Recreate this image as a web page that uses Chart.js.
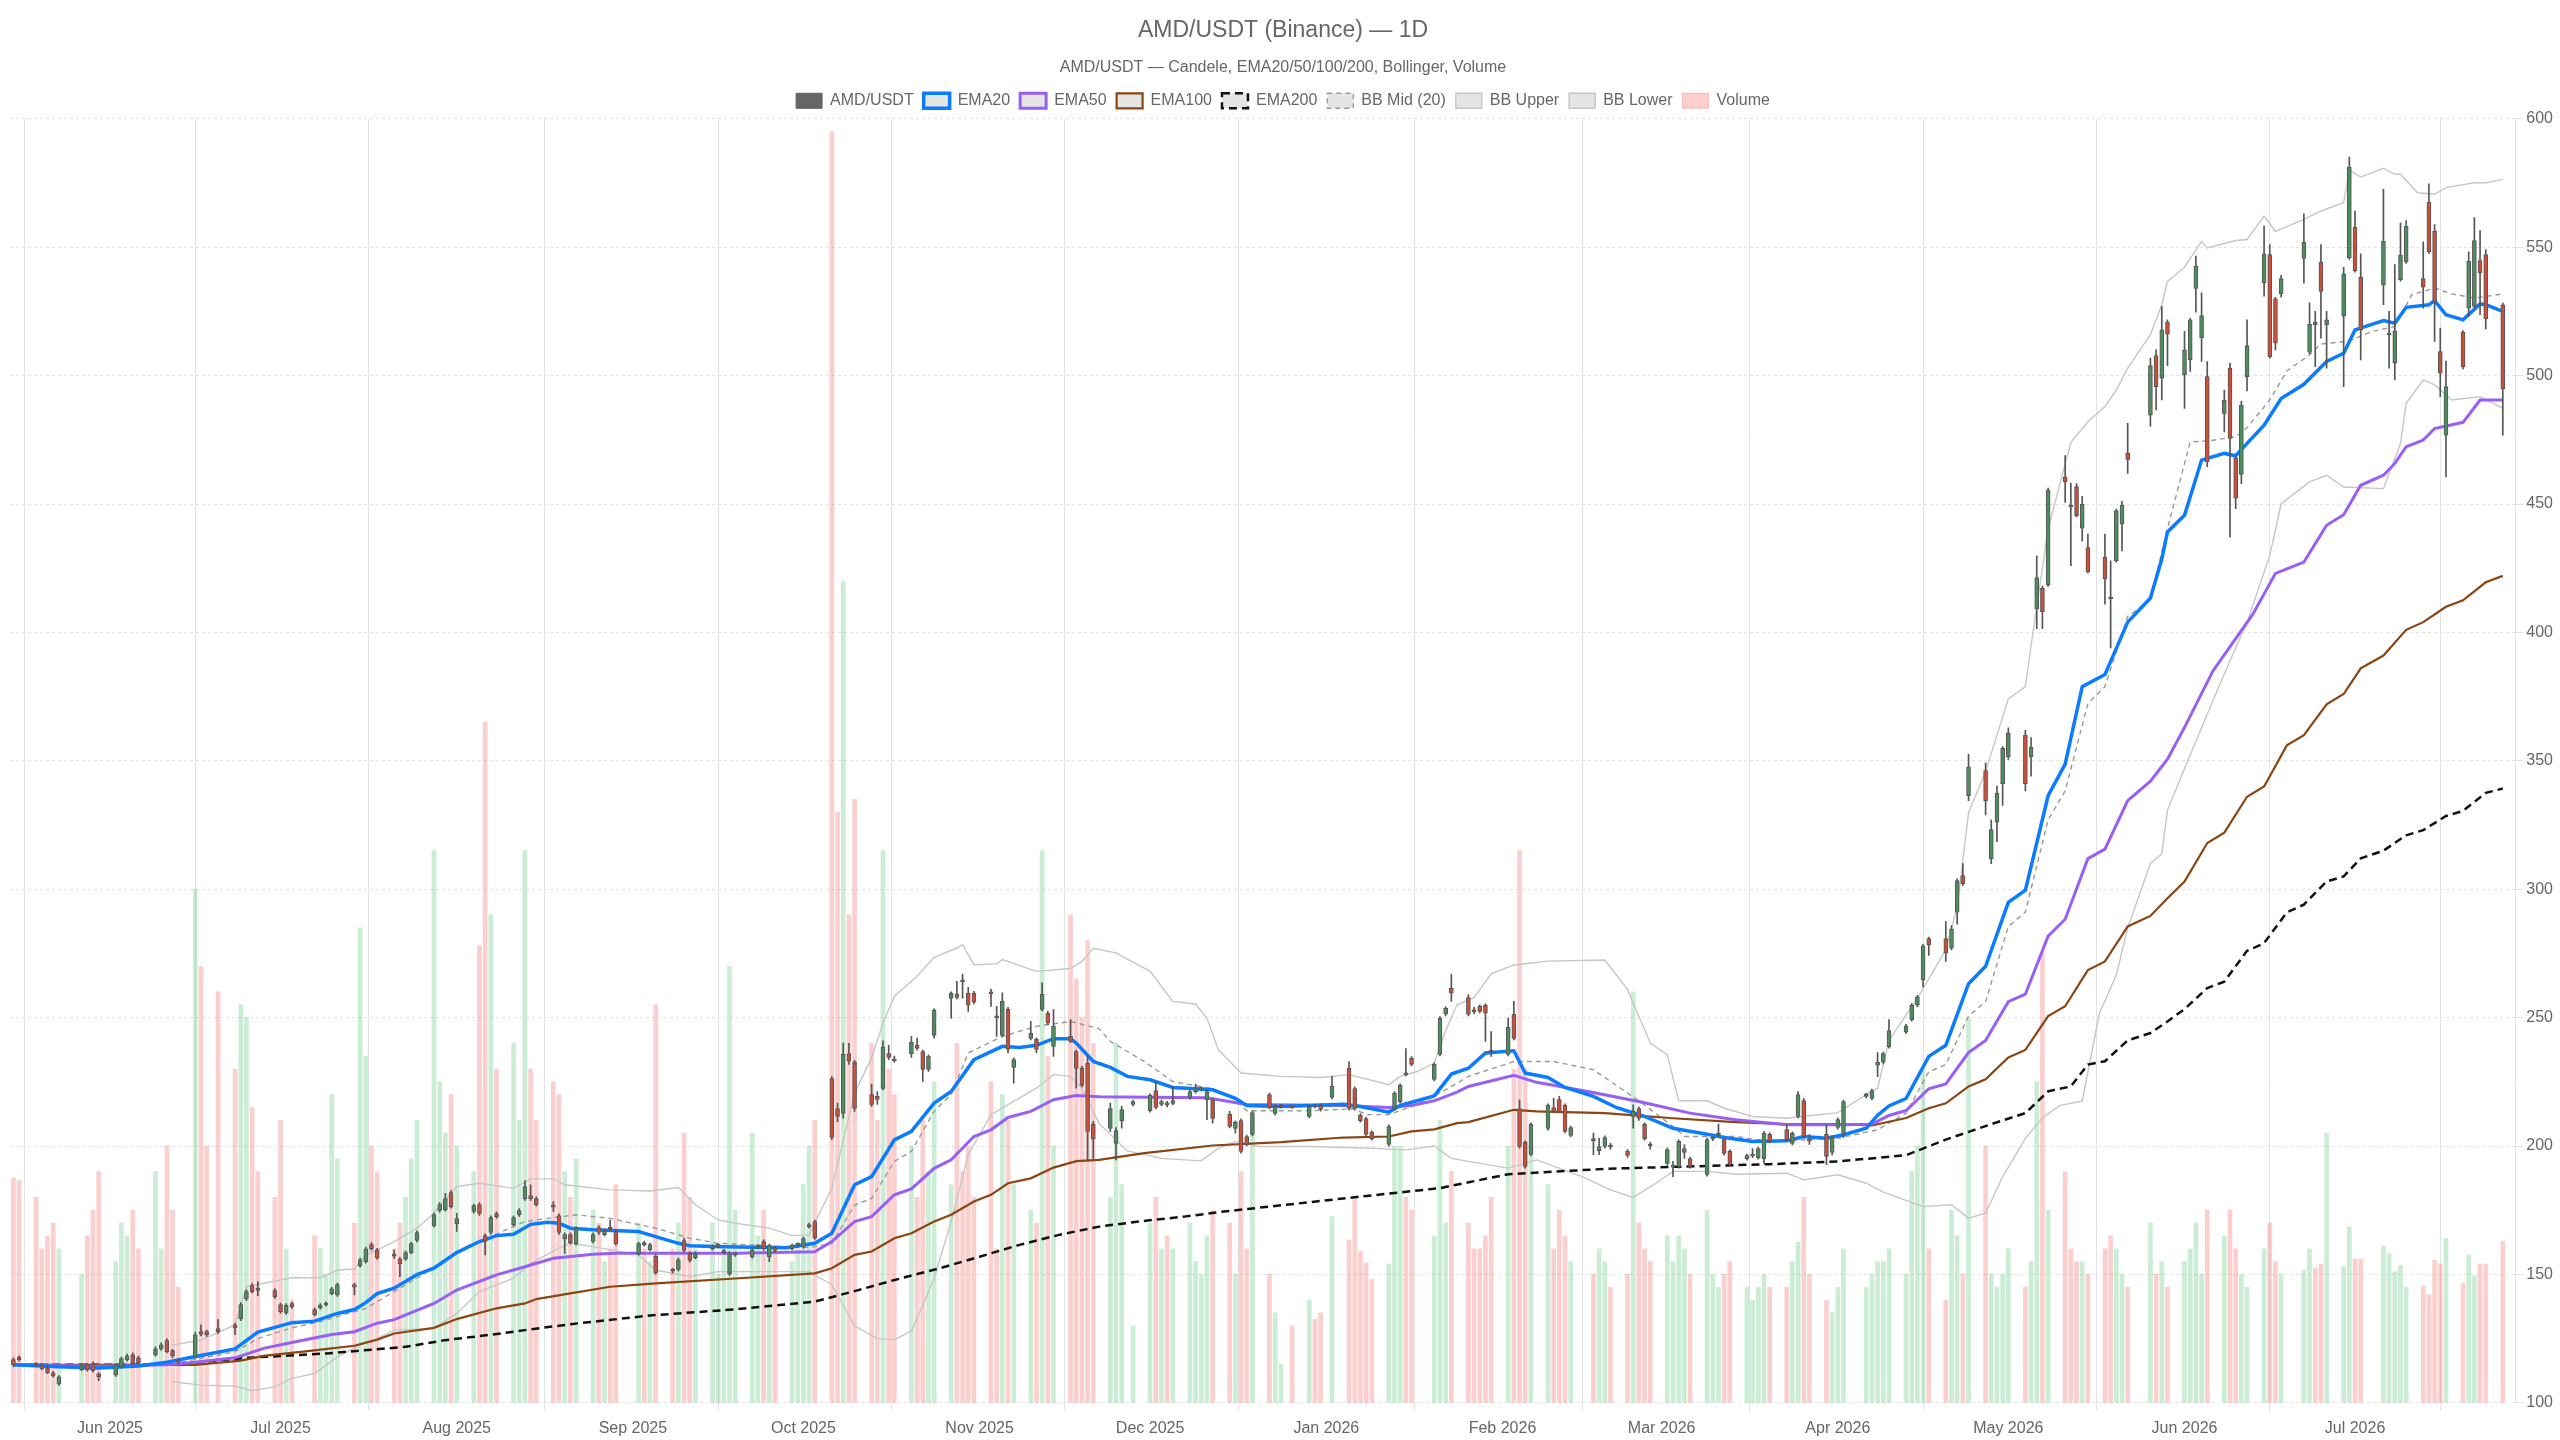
<!DOCTYPE html>
<html>
<head>
<meta charset="utf-8">
<title>AMD/USDT (Binance) — 1D</title>
<script src="https://cdn.jsdelivr.net/npm/chart.js@4.4.1/dist/chart.umd.min.js"></script>
<style>
  html, body { margin: 0; padding: 0; background: #fff; }
  #wrap { width: 2560px; height: 1440px; }
</style>
</head>
<body>
<div id="wrap"><canvas id="chart"></canvas></div>
<script>
'use strict';

// trading days, counted in calendar days from 15 May 2025
var days = [
  0,1,4,5,6,7,8,12,13,14,15,
  18,19,20,21,22,25,26,27,28,29,32,33,34,36,39,40,41,42,43,46,
  47,48,49,53,54,55,56,57,60,61,62,63,64,67,68,69,70,71,74,75,76,77,
  78,81,82,83,84,85,88,89,90,91,92,95,96,97,98,99,102,103,104,105,106,
  110,111,112,113,116,117,118,119,120,123,124,125,126,127,130,131,132,133,134,137,138,
  139,140,141,144,145,146,147,148,151,152,153,154,155,158,159,160,161,162,165,166,167,168,169,
  172,173,174,175,176,179,180,181,182,183,186,187,188,189,190,193,194,195,197,
  200,201,202,203,204,207,208,209,210,211,214,215,216,217,218,221,222,223,225,228,229,230,
  232,235,236,237,238,239,242,243,244,245,246,250,251,252,253,256,257,258,259,260,
  263,264,265,266,267,270,271,272,273,274,278,279,280,281,284,285,286,287,288,
  291,292,293,294,295,298,299,300,301,302,305,306,307,308,309,312,313,314,315,316,319,320,
  321,322,326,327,328,329,330,333,334,335,336,337,340,341,342,343,344,347,348,349,350,
  351,354,355,356,357,358,361,362,363,364,365,368,369,370,371,372,376,377,378,379,
  382,383,384,385,386,389,390,391,392,393,396,397,398,399,403,404,405,406,407,410,411,
  412,413,417,418,419,420,421,424,425,426,427,428,431,432,433,434,435,438
];

var opens = [
  116.8,117.7,115.0,114.4,113.6,111.7,107.4,112.9,114.8,115.2,111.3,
  110.9,114.0,116.8,118.7,117.5,118.7,121.0,124.2,120.3,116.2,117.9,127.7,127.7,128.9,130.4,132.7,140.5,145.6,144.2,143.7,
  138.2,135.0,138.6,136.3,137.0,138.1,142.5,142.0,146.0,153.4,155.0,161.6,159.6,157.5,156.0,156.0,158.5,163.2,169.0,174.9,175.2,181.9,
  169.8,174.5,177.2,165.1,166.3,173.7,169.4,173.3,179.5,180.7,179.5,176.6,172.9,163.9,165.5,162.0,162.8,168.2,165.5,168.0,166.7,
  158.1,162.4,159.6,157.0,151.7,151.9,163.2,158.1,156.5,160.0,160.9,158.5,150.3,157.5,156.9,160.6,162.8,156.9,160.4,160.0,161.3,
  160.8,168.6,170.6,226.3,214.6,212.7,236.0,232.6,220.0,219.3,222.4,236.0,233.6,236.0,239.2,236.8,229.8,243.1,257.5,259.1,264.3,259.5,259.5,
  259.7,250.3,243.1,253.2,230.6,241.9,241.5,253.2,251.7,238.8,242.7,236.8,230.2,232.2,208.4,206.8,201.0,209.9,216.2,
  213.8,221.6,216.2,216.8,216.6,218.9,221.2,222.0,218.0,218.0,212.3,206.8,209.9,203.7,204.5,220.0,212.7,215.2,215.4,211.5,215.5,215.8,
  218.9,230.2,222.4,211.9,210.7,205.3,200.6,214.6,217.3,228.1,234.1,225.9,235.7,251.3,261.4,257.8,252.6,254.4,254.8,237.0,
  235.7,251.3,214.6,201.4,196.7,206.8,215.0,218.1,215.8,204.1,202.9,198.2,199.8,200.0,197.9,211.5,214.6,208.4,200.4,
  193.2,191.8,192.0,197.5,195.1,188.9,202.7,204.3,202.5,197.9,195.1,196.1,195.5,195.1,204.5,206.4,201.0,211.5,217.7,202.3,204.5,197.5,
  207.2,204.5,219.3,218.5,231.5,232.6,238.7,244.3,249.2,254.9,264.7,280.8,280.8,277.0,291.1,305.3,336.4,346.2,311.9,326.1,341.1,
  351.5,360.0,351.5,409.1,417.2,418.5,460.6,449.5,456.8,440.6,433.0,429.3,413.7,427.9,442.1,469.7,484.6,507.8,499.0,520.8,
  500.3,506.1,533.9,514.8,499.6,485.3,502.9,468.0,461.5,499.6,536.1,547.1,529.9,531.8,545.6,509.1,520.8,544.1,519.8,523.1,545.8,
  557.8,538.3,535.2,515.8,504.8,537.4,544.3,537.8,567.6,556.3,509.4,476.8,516.9,526.3,526.9,544.8,547.1,527.6
];

var highs = [
  117.5,118.3,115.6,115.2,114.8,112.3,110.6,115.0,115.4,116.0,111.8,
  115.4,117.8,119.0,119.5,118.2,121.8,123.4,125.0,120.8,117.0,127.5,130.4,128.3,132.4,131.0,139.0,144.0,146.4,147.2,144.5,
  138.8,138.6,139.2,137.0,138.6,139.3,145.0,146.6,146.6,156.4,160.6,162.4,160.2,159.6,156.6,159.1,162.6,167.0,174.0,178.0,181.6,182.6,
  173.8,177.4,178.0,165.8,172.8,174.4,172.8,175.6,186.4,184.9,180.2,178.4,173.6,166.2,166.2,168.5,166.2,169.0,167.7,171.2,167.4,
  162.6,163.0,162.2,157.6,152.4,156.4,164.1,158.8,158.8,161.4,161.9,159.8,158.8,158.6,160.3,161.6,163.5,161.8,161.0,161.8,162.3,
  164.5,170.0,171.2,227.0,216.7,240.1,240.0,233.4,224.1,221.2,241.0,239.2,235.0,242.7,242.0,237.4,235.5,253.4,260.0,264.1,266.9,261.8,260.2,
  261.0,254.4,259.6,254.0,234.3,248.5,242.1,263.5,252.4,253.1,249.2,237.4,231.0,234.9,209.6,216.7,207.2,215.4,217.9,
  220.3,225.1,218.0,217.4,223.2,221.8,224.1,223.0,221.8,218.6,213.5,209.8,210.6,204.3,213.7,220.6,216.0,216.2,215.8,216.0,216.0,216.4,
  227.1,232.9,223.0,212.6,211.3,205.9,208.2,221.2,224.2,237.9,234.8,232.4,250.4,254.2,266.9,259.0,254.0,255.0,255.4,244.6,
  249.8,256.3,218.0,202.0,209.0,216.4,218.6,219.3,216.4,207.8,205.0,203.0,204.0,201.0,198.6,216.0,215.3,209.0,201.5,
  199.2,194.0,202.4,200.6,195.7,203.1,203.7,208.5,203.1,198.5,196.9,199.0,199.6,205.7,205.1,208.3,205.5,221.2,218.6,204.4,208.3,203.9,
  211.0,217.9,220.6,222.2,236.4,236.6,249.2,247.4,255.5,258.7,278.5,281.4,287.4,285.8,304.0,310.0,352.5,349.2,327.0,340.2,355.5,
  362.8,361.9,359.0,429.8,418.0,456.2,468.9,458.1,458.0,453.0,438.3,438.3,427.9,448.0,451.0,481.4,506.8,510.0,527.0,521.7,
  517.2,522.3,546.5,532.2,505.5,494.4,504.8,468.6,490.1,521.7,558.2,551.0,530.5,539.0,563.0,528.3,525.0,551.0,525.0,542.2,585.1,
  564.1,547.4,572.5,525.0,543.2,559.5,560.4,552.1,574.7,558.8,518.5,505.7,517.5,548.2,561.5,556.5,549.1,528.2
];

var lows = [
  114.0,116.2,114.2,112.8,111.3,110.0,106.8,112.5,112.3,112.0,108.6,
  110.3,113.5,116.2,114.8,115.0,118.2,120.4,119.4,117.6,115.2,117.4,126.0,125.8,126.9,126.5,132.0,139.8,142.8,141.7,140.6,
  134.8,134.4,136.8,133.8,136.5,137.6,142.0,141.4,142.0,152.8,154.4,159.4,155.8,156.2,149.1,155.4,158.0,162.6,168.4,174.2,174.6,175.8,
  166.7,173.8,173.0,157.6,165.6,171.8,168.8,172.6,178.8,178.8,176.6,174.5,165.6,158.2,161.8,161.4,162.2,165.6,165.0,167.0,161.4,
  157.5,161.0,159.0,150.0,150.6,151.3,158.7,154.8,156.0,159.4,160.3,158.0,149.6,157.0,156.3,160.0,159.4,155.0,158.6,159.4,160.8,
  160.2,168.0,163.6,202.5,209.5,210.8,231.8,213.5,215.4,216.2,221.8,233.6,232.6,234.5,237.4,225.1,229.0,242.0,249.8,257.3,257.5,252.4,255.3,
  254.4,242.7,242.5,236.2,224.5,241.3,236.2,252.6,247.2,234.9,240.2,222.5,223.0,194.6,195.2,205.7,194.6,206.9,215.6,
  213.2,214.4,215.6,215.2,216.0,218.2,220.6,221.4,210.3,208.9,207.0,205.0,197.2,200.0,203.9,214.4,212.1,214.8,214.6,210.9,214.8,213.6,
  218.3,214.0,214.0,209.3,203.9,202.3,199.8,214.0,216.7,227.3,231.2,225.3,235.1,250.7,256.3,250.7,251.5,251.8,240.7,234.9,
  235.1,241.3,199.2,191.4,196.1,206.2,212.9,212.9,205.1,203.5,196.6,196.6,199.2,198.8,195.6,206.9,210.0,202.3,198.8,
  192.6,188.1,191.4,195.2,191.4,188.3,202.1,203.6,196.5,192.2,194.5,195.5,194.9,193.3,201.2,201.9,200.4,210.9,203.1,200.6,192.7,196.5,
  206.6,203.3,218.7,217.9,227.0,232.0,238.1,243.7,248.6,254.3,261.9,274.2,271.9,276.4,286.4,301.5,334.5,328.9,309.9,318.5,332.6,
  350.5,338.3,344.0,401.5,401.5,417.9,450.6,426.0,445.0,435.5,423.2,411.0,394.0,427.3,431.7,461.9,480.3,486.6,490.5,503.9,
  487.2,501.6,524.7,505.5,464.5,478.1,437.1,448.2,457.9,494.0,530.9,506.8,510.0,530.5,536.0,508.5,503.5,514.6,502.9,495.7,545.2,
  540.3,506.1,527.6,502.9,498.3,536.8,543.7,526.3,547.6,513.3,491.8,460.5,502.6,523.0,526.4,523.7,518.2,476.8
];

var closes = [
  114.8,116.8,114.7,113.3,111.7,110.5,110.1,114.4,112.9,112.5,110.1,
  114.8,117.2,118.3,115.2,115.6,121.0,122.6,119.9,118.3,115.9,126.5,126.6,126.5,127.7,129.2,138.2,143.3,143.3,143.8,141.3,
  135.5,138.0,137.4,134.3,138.1,138.7,144.4,146.0,145.0,155.7,160.0,160.0,156.5,157.1,154.2,158.5,162.0,166.3,173.3,177.2,179.5,176.4,
  171.7,176.8,173.7,162.8,172.1,172.5,172.1,174.9,184.2,179.5,177.2,176.2,166.3,165.5,162.4,167.8,165.5,166.3,167.0,167.6,162.0,
  162.0,161.6,161.6,150.7,151.3,155.7,159.3,155.4,158.1,160.8,161.3,159.2,158.1,157.9,159.6,161.0,160.0,161.2,159.3,161.2,161.7,
  163.9,169.4,164.3,203.3,211.5,235.7,233.0,214.6,216.2,218.1,238.4,234.5,233.1,240.4,238.0,229.8,234.9,252.8,259.5,257.9,263.9,254.8,256.0,
  259.3,249.9,256.3,237.6,233.7,243.9,237.6,259.1,247.8,246.6,240.7,230.2,223.6,205.7,202.9,214.6,206.0,214.2,217.3,
  219.7,215.0,217.3,216.0,217.7,221.2,222.4,222.3,221.2,210.7,207.6,209.2,197.9,200.6,213.0,215.0,215.4,215.6,215.0,215.4,215.2,214.2,
  223.2,214.6,214.6,209.9,204.5,202.9,207.6,220.5,223.6,227.7,231.8,231.8,249.7,253.6,259.5,251.3,252.2,252.4,251.7,236.6,
  246.2,241.9,199.8,192.0,208.4,215.8,213.5,213.5,205.7,207.2,202.1,199.8,203.3,199.6,196.3,213.5,210.7,202.9,200.0,
  198.6,192.2,201.8,199.0,192.0,202.5,203.1,204.7,197.1,192.8,196.3,196.5,199.0,204.9,201.8,202.5,204.9,220.0,203.7,201.9,195.9,203.3,
  210.3,217.3,220.0,221.6,232.6,236.0,244.9,246.8,254.9,258.1,277.9,278.3,275.1,284.5,303.4,302.1,347.7,334.5,323.2,337.4,354.9,
  360.9,341.1,355.3,421.3,408.1,455.3,458.7,448.9,445.5,450.0,423.6,420.8,413.1,447.4,449.6,467.4,503.9,495.7,517.8,516.1,
  510.0,521.7,542.6,523.4,466.4,490.5,475.5,452.3,488.5,511.7,547.4,507.4,512.6,537.8,551.9,520.0,519.8,532.8,521.7,539.6,581.2,
  540.9,517.8,552.3,516.4,517.4,546.9,558.2,534.4,548.2,528.9,500.9,495.7,503.5,544.5,552.6,540.0,522.1,494.8
];

// relative volume (tallest bar ~ 100)
var volumes = [
  17.5,17.3,16,12,13,14,12,10,13,15,18,
  11,14,13,15,12,18,12,20,15,9,40,34,20,32,26,31,30,23,18,16,
  22,12,8,13,12,10,24,19,14,37,27,20,18,12,14,16,19,22,43,25,21,24,
  20,18,35.6,53,38,26,28,22,43,26,22,25,24,18,16,19,15,14,11,12,17,
  14,12,11,31,12,14,21,16,12,14,10,12,34,15,21,13,15,12,12,11,12,
  17,20,22,99,46,64,38,47,28,22,43,26,24,20,16,22,18,25,17,28,18,20,16,
  25,12,24,22,17,15,14,43,27,20,38,33,30,36,28,16,28,17,6,
  14,16,12,13,12,14,11,10,13,15,14,10,18,12,22,10,7,3,6,8,6.5,7,
  14.5,12.7,15.9,11.8,10.9,9.6,10.8,20,20,16,15,13,22,14,18,14,12,12,13,16,
  20,26,43,26,20,17,12,15,13,11,10,12,11,9,10,32,14,12,11,
  13,11,13,12,10,15,10,9,10,11,9,8,9,10,9,9,11,12.5,16,10,8,7,
  9,12,9,10,11,11,12,10,18,20,26,12,8,15,13,10,30,20,10,9,10,
  12,9,11,25,35,15,18,12,11,11,10,12,13,12,10,9,14,10,11,9,
  11,12,14,10,15,13,15,12,10,9,12,14,11,10,10.3,12,10.5,10.8,21,10.6,13.7,
  11.2,11.2,12.2,11.6,10.2,10.7,9,9.1,8.4,11.1,10.8,12.8,9.3,11.5,9.9,10.8,10.8,12.6
];

// indicator lines: [day, value]
var ema20 = [[0,114.8],[8,114.0],[15,113.6],[22,114.3],[27,115.8],[32,118.0],[39,121.0],[43,127.5],[49,131.2],[53,131.8],[57,134.8],[60,136.3],[62,139.0],[64,142.5],[67,144.6],[71,149.9],[74,152.4],[78,158.5],[82,162.8],[85,165.1],[88,165.6],[91,169.5],[94,170.3],[96,169.9],[98,168.0],[102,167.4],[110,166.7],[113,164.7],[117,162.1],[119,161.2],[125,160.8],[136,160.4],[141,162.1],[144,166.0],[148,184.9],[151,188.1],[155,202.4],[158,205.7],[162,216.7],[165,221.2],[169,233.6],[174,238.8],[177,238.4],[180,239.2],[183,241.8],[186,241.8],[187,240.1],[190,232.9],[193,230.6],[196,227.1],[200,225.8],[204,222.8],[211,221.9],[215,218.6],[217,215.8],[223,215.4],[234,216.3],[237,215.4],[242,213.2],[244,215.8],[250,219.5],[253,228.0],[256,230.3],[259,236.2],[264,237.1],[266,228.4],[270,226.7],[273,222.8],[278,219.3],[282,215.0],[287,211.5],[292,206.9],[298,204.6],[301,203.3],[306,201.8],[312,202.0],[315,203.7],[319,203.0],[322,204.4],[326,206.9],[328,212.0],[330,215.6],[333,218.5],[337,234.9],[340,239.2],[344,263.2],[347,270.0],[351,294.9],[354,299.6],[358,336.4],[361,348.7],[364,378.9],[368,383.6],[372,404.0],[376,413.4],[378,428.6],[379,439.1],[382,445.6],[385,467.1],[389,469.7],[391,468.8],[393,473.6],[396,480.7],[399,491.1],[403,496.6],[407,505.5],[410,508.7],[412,517.8],[417,521.4],[419,520.4],[421,526.6],[425,527.6],[426,529.2],[428,523.7],[431,521.7],[434,527.9],[435,527.6],[438,525.0]];

var ema50 = [[0,114.8],[15,114.2],[27,114.8],[32,115.8],[39,117.5],[44,121.2],[49,123.5],[56,126.6],[60,127.7],[64,131.0],[67,132.4],[74,138.7],[78,143.9],[85,149.8],[90,153.0],[95,156.3],[102,157.8],[106,158.2],[127,158.2],[141,158.8],[144,162.8],[148,170.6],[151,172.5],[155,181.0],[158,183.3],[162,191.3],[165,194.6],[169,203.7],[172,206.3],[175,211.1],[179,213.5],[183,218.0],[187,219.7],[191,219.2],[200,219.0],[210,218.8],[217,216.2],[234,215.8],[242,215.0],[246,215.8],[250,217.6],[254,221.0],[256,223.2],[264,227.5],[268,224.8],[277,221.2],[286,217.3],[295,212.8],[303,210.2],[312,208.3],[321,208.3],[327,208.5],[330,211.9],[333,213.8],[337,222.3],[340,224.2],[344,236.4],[347,241.1],[351,256.2],[354,259.1],[358,281.7],[361,288.3],[365,311.9],[368,315.6],[372,334.5],[376,342.1],[379,350.6],[382,363.0],[387,385.0],[394,407.0],[398,423.0],[403,427.4],[407,441.7],[410,445.8],[413,457.3],[417,461.2],[419,465.8],[421,472.3],[424,474.9],[426,479.4],[431,481.8],[434,490.5],[438,490.5]];

var ema100 = [[0,114.8],[32,114.8],[40,116.4],[44,118.3],[51,119.9],[60,122.2],[64,124.6],[67,127.0],[74,129.2],[78,132.6],[85,136.8],[90,138.7],[92,140.4],[98,142.6],[105,145.2],[113,146.5],[127,148.4],[141,150.4],[144,152.4],[148,157.6],[151,158.9],[155,164.1],[158,166.0],[162,170.6],[165,173.2],[169,178.4],[172,181.0],[175,185.5],[179,187.4],[183,191.6],[187,194.1],[191,194.6],[199,197.2],[211,200.2],[223,201.5],[234,203.3],[242,203.7],[246,205.7],[250,206.5],[254,208.9],[256,209.3],[264,214.1],[268,213.5],[280,212.8],[292,210.8],[303,209.3],[312,208.5],[321,208.5],[327,208.0],[333,210.9],[337,214.7],[340,216.6],[344,223.2],[347,226.0],[351,234.5],[354,237.4],[358,250.6],[361,254.4],[365,268.5],[368,271.9],[372,285.5],[376,289.6],[379,296.5],[382,303.0],[386,318.0],[389,322.0],[393,336.0],[396,340.0],[400,356.0],[403,360.0],[407,372.0],[410,376.0],[413,386.0],[417,391.0],[421,401.0],[424,404.0],[428,410.0],[431,412.5],[435,419.5],[438,422.0]];

var ema200 = [[0,114.8],[29,114.9],[41,117.5],[55,119.2],[69,121.8],[76,124.4],[84,126.5],[90,128.3],[98,130.6],[112,134.0],[127,136.4],[141,139.4],[148,143.5],[155,147.8],[163,152.4],[170,156.9],[177,161.5],[184,165.4],[191,168.6],[198,170.6],[206,172.5],[213,174.5],[221,176.4],[237,180.3],[251,183.6],[263,189.0],[280,191.1],[294,192.0],[309,192.9],[321,194.0],[333,196.4],[340,202.5],[348,208.5],[354,212.8],[358,221.3],[362,223.2],[365,231.7],[368,233.0],[372,241.1],[376,244.0],[379,248.5],[382,253.3],[386,261.5],[389,264.0],[393,276.0],[396,279.0],[400,291.0],[403,294.0],[407,303.0],[410,305.0],[413,312.0],[417,315.0],[421,321.0],[424,323.0],[428,328.5],[431,330.5],[435,337.5],[438,339.2]];

var bbMid = [[28,115.2],[39,119.9],[43,125.0],[49,129.2],[54,131.6],[62,136.8],[71,148.5],[78,158.9],[84,164.7],[90,170.6],[95,172.1],[99,173.2],[105,171.8],[113,168.0],[119,164.1],[124,162.1],[140,160.4],[144,162.1],[148,177.0],[151,179.6],[155,194.0],[158,197.9],[162,213.5],[165,220.0],[168,236.2],[174,242.7],[180,246.6],[186,248.5],[191,245.7],[193,240.7],[199,232.9],[204,225.1],[211,222.3],[215,218.0],[217,213.7],[228,213.7],[236,214.5],[238,212.2],[242,212.2],[246,215.4],[251,220.6],[256,227.1],[264,232.9],[271,232.9],[278,229.7],[286,217.6],[292,207.6],[294,203.7],[303,203.7],[309,201.8],[321,203.0],[328,206.3],[333,212.8],[337,228.9],[340,231.7],[344,250.6],[347,256.2],[351,285.5],[354,291.1],[358,327.0],[361,338.3],[365,372.3],[368,378.9],[372,406.2],[376,412.8],[379,440.4],[383,474.2],[386,474.5],[391,476.2],[393,479.7],[397,490.5],[400,501.8],[404,508.1],[406,512.3],[411,513.5],[415,517.2],[419,519.1],[422,531.5],[426,534.1],[429,531.8],[433,530.2],[438,531.8]];

var bbUpper = [[28,122.5],[33,124.4],[39,130.3],[41,145.2],[49,148.7],[54,148.7],[57,151.7],[60,152.1],[62,157.5],[64,159.5],[67,162.8],[71,168.0],[74,173.8],[78,184.2],[82,185.5],[88,183.5],[91,187.2],[95,187.2],[97,184.9],[105,182.9],[112,182.5],[117,183.8],[120,177.1],[124,171.2],[127,169.9],[133,168.0],[137,165.1],[140,165.4],[144,183.6],[148,220.6],[151,234.3],[153,247.9],[155,258.3],[159,266.1],[162,273.5],[166,277.1],[167,278.4],[169,270.6],[173,270.9],[174,272.6],[180,268.0],[186,269.1],[188,271.9],[190,277.0],[194,275.2],[200,268.0],[204,256.3],[208,255.3],[210,249.8],[212,237.5],[216,228.4],[223,227.1],[230,226.7],[235,227.8],[242,223.9],[244,227.1],[247,229.0],[250,232.3],[252,245.0],[254,255.0],[257,257.8],[260,267.0],[264,270.5],[270,272.0],[280,272.4],[284,261.0],[285,255.7],[288,240.1],[291,235.5],[293,217.6],[298,217.6],[301,214.7],[306,211.5],[312,210.8],[321,213.0],[326,220.0],[328,222.5],[330,241.1],[335,257.5],[340,276.4],[342,293.0],[344,329.8],[347,345.8],[351,374.1],[354,378.9],[355,394.9],[358,440.2],[362,474.0],[365,482.0],[368,488.0],[370,494.4],[372,502.9],[376,515.9],[378,527.6],[379,536.7],[382,542.2],[385,552.3],[386,549.7],[391,552.6],[393,553.0],[396,562.1],[398,556.2],[403,560.8],[406,564.1],[410,567.3],[411,580.0],[413,577.3],[417,580.7],[419,578.4],[420,578.4],[423,571.2],[426,570.6],[428,573.2],[433,575.1],[435,575.1],[438,576.4]];

var bbLower = [[28,108.2],[33,106.9],[39,106.5],[42,104.7],[46,106.2],[49,109.5],[53,111.4],[57,117.9],[61,122.5],[64,125.0],[67,128.3],[74,129.0],[78,134.8],[82,143.3],[88,148.5],[91,154.3],[96,160.2],[98,162.1],[102,160.8],[110,157.6],[113,151.7],[119,149.1],[124,151.1],[140,151.1],[144,146.0],[146,138.0],[148,130.0],[152,125.0],[155,124.5],[158,128.0],[160,138.0],[162,148.5],[165,170.6],[168,196.6],[172,212.2],[175,216.1],[180,222.5],[183,227.8],[186,227.1],[188,222.5],[191,208.9],[196,198.1],[202,195.2],[209,194.2],[212,199.1],[215,201.8],[219,199.8],[228,199.8],[239,199.1],[245,198.5],[250,200.0],[253,195.2],[256,194.0],[263,191.4],[268,194.6],[276,188.1],[281,182.9],[285,180.0],[289,185.5],[292,190.1],[298,190.1],[303,189.0],[312,189.4],[315,186.8],[321,188.8],[326,185.5],[329,182.0],[336,176.4],[341,177.1],[344,171.9],[347,173.8],[350,188.0],[354,203.0],[357,210.9],[360,215.7],[364,217.5],[367,251.5],[370,266.6],[372,285.0],[376,310.0],[378,313.8],[379,330.8],[382,347.0],[388,378.7],[393,404.0],[397,430.0],[399,450.1],[404,458.6],[407,461.2],[410,456.6],[417,456.0],[420,473.6],[421,489.2],[424,498.3],[426,496.4],[429,490.5],[434,491.8],[438,487.2]];

// month ticks on the time axis
var tickDays = [17, 47, 78, 109, 139, 170, 200, 231, 262, 290, 321, 351, 382, 412];
var tickLabels = ['Jun 2025', 'Jul 2025', 'Aug 2025', 'Sep 2025', 'Oct 2025', 'Nov 2025', 'Dec 2025',
  'Jan 2026', 'Feb 2026', 'Mar 2026', 'Apr 2026', 'May 2026', 'Jun 2026', 'Jul 2026'];

var UP = '#4c8e5e';
var DOWN = '#cb4f3a';
var WICK = '#555555';
var VOL_UP = 'rgba(46,184,92,0.25)';
var VOL_DOWN = 'rgba(239,83,80,0.28)';

function pts(pairs) {
  return pairs.map(function (p) { return { x: p[0], y: p[1] }; });
}

var isUp = days.map(function (d, i) { return closes[i] >= opens[i]; });

var bodyData = days.map(function (d, i) { return { x: d, y: [opens[i], closes[i]] }; });
var wickData = days.map(function (d, i) { return { x: d, y: [lows[i], highs[i]] }; });
var volData = days.map(function (d, i) { return { x: d, y: volumes[i] }; });

var bodyColors = isUp.map(function (u) { return u ? UP : DOWN; });
var volColors = isUp.map(function (u) { return u ? VOL_UP : VOL_DOWN; });

function line(label, data, color, width, dash) {
  return {
    type: 'line',
    label: label,
    data: pts(data),
    borderColor: color,
    backgroundColor: 'rgba(0,0,0,0.1)',
    borderWidth: width,
    borderDash: dash || [],
    pointRadius: 0,
    pointHoverRadius: 0,
    tension: 0,
    fill: false
  };
}

var ctx = document.getElementById('chart').getContext('2d');
new Chart(ctx, {
  type: 'bar',
  data: {
    datasets: [
      {
        label: 'AMD/USDT',
        data: bodyData,
        backgroundColor: bodyColors,
        borderColor: WICK,
        borderWidth: 1,
        borderSkipped: false,
        barThickness: 4,
        minBarLength: 2,
        grouped: false
      },
      {
        label: 'wick',
        data: wickData,
        backgroundColor: WICK,
        borderWidth: 0,
        barThickness: 1,
        grouped: false
      },
      line('EMA20', ema20, '#0a7cff', 3.5),
      line('EMA50', ema50, '#985ff5', 3),
      line('EMA100', ema100, '#8b4513', 2.2),
      line('EMA200', ema200, '#111111', 2.5, [8, 5]),
      line('BB Mid (20)', bbMid, '#999999', 1.4, [5, 4]),
      line('BB Upper', bbUpper, '#c6c6c6', 1.4),
      line('BB Lower', bbLower, '#c6c6c6', 1.4),
      {
        label: 'Volume',
        data: volData,
        yAxisID: 'yVol',
        backgroundColor: volColors,
        borderWidth: 0,
        barThickness: 4,
        grouped: false
      }
    ]
  },
  options: {
    responsive: true,
    maintainAspectRatio: false,
    animation: false,
    devicePixelRatio: 1,
    layout: { padding: { left: 10, right: 4, bottom: -6 } },
    plugins: {
      title: {
        display: true,
        text: 'AMD/USDT (Binance) — 1D',
        color: '#666',
        font: { size: 23, weight: 'normal' },
        padding: { top: 17, bottom: 8 }
      },
      subtitle: {
        display: true,
        text: 'AMD/USDT — Candele, EMA20/50/100/200, Bollinger, Volume',
        color: '#666',
        font: { size: 16 },
        padding: { top: 5, bottom: 6 }
      },
      legend: {
        position: 'top',
        labels: {
          boxWidth: 26,
          boxHeight: 15,
          color: '#666',
          font: { size: 16 },
          filter: function (item) { return item.text !== 'wick'; },
          generateLabels: function (chart) {
            var items = Chart.defaults.plugins.legend.labels.generateLabels(chart);
            items.forEach(function (it) {
              if (it.text === 'AMD/USDT') { it.fillStyle = '#666'; it.strokeStyle = '#666'; it.lineWidth = 1; }
              if (it.text === 'Volume') { it.fillStyle = VOL_DOWN; it.strokeStyle = VOL_DOWN; it.lineWidth = 1; }
            });
            return items;
          }
        }
      },
      tooltip: { enabled: false }
    },
    scales: {
      x: {
        type: 'linear',
        min: -0.6,
        max: 440.2,
        offset: false,
        bounds: 'data',
        afterBuildTicks: function (scale) {
          scale.ticks = tickDays.map(function (d) { return { value: d }; });
        },
        ticks: {
          autoSkip: false,
          maxRotation: 0,
          color: '#666',
          font: { size: 16 },
          padding: 8,
          callback: function (value, index) { return tickLabels[index]; }
        },
        grid: { offset: true, color: '#e3e3e3' },
        border: { display: false }
      },
      y: {
        position: 'right',
        min: 100,
        max: 600,
        ticks: { stepSize: 50, color: '#666', font: { size: 16 } },
        grid: { color: '#e3e3e3' },
        border: { display: true, color: '#e3e3e3', dash: [3, 3] }
      },
      yVol: {
        display: false,
        min: 0,
        max: 100
      }
    }
  }
});
</script>
</body>
</html>
